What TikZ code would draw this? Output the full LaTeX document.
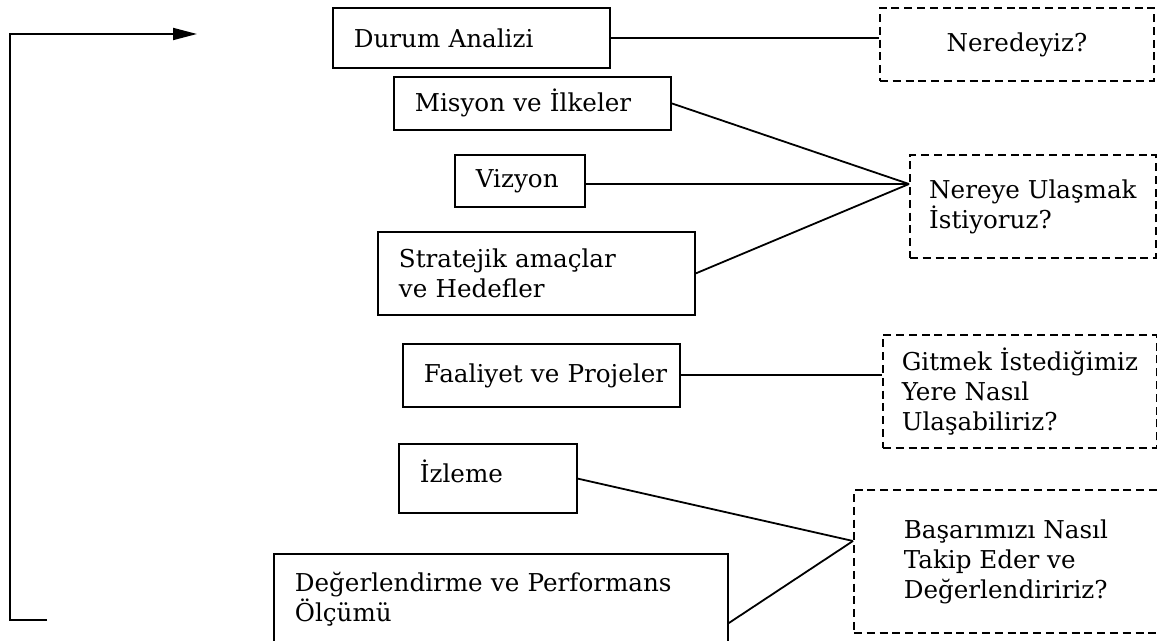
\documentclass[tikz,border=0pt]{standalone}
\usepackage{fontspec}
\setmainfont{DejaVu Serif}
\usetikzlibrary{arrows.meta}

\begin{document}
\begin{tikzpicture}[x=0.5pt, y=-0.5pt, line width=0.9pt,
    font=\fontsize{12.3pt}{15pt}\selectfont]
    \tikzset{box/.style={
      draw, rectangle, anchor=north west, align=left,
      inner xsep=10.5pt, inner ysep=0pt}}
    \tikzset{ask/.style={
      draw, rectangle, anchor=north west, align=left,
      dash pattern=on 4pt off 2.4pt}}

    \useasboundingbox (0, 0) rectangle (1157, 641);

    % Steps
    \node [box, text width=117.5pt, minimum height=30pt]
          (durum) at (332, 7) {\mbox{Durum Analizi}};
    \node [box, text width=117.5pt, minimum height=26.5pt]
          (misyon) at (393, 76) {\mbox{Misyon ve İlkeler}};
    \node [box, text width=44pt, minimum height=26pt]
          (vizyon) at (454, 154) {\mbox{Vizyon}};
    \node [box, text width=137.5pt, minimum height=41.5pt]
          (amac) at (377, 231) {Stratejik amaçlar\\ve Hedefler};
    \node [box, text width=117.5pt, minimum height=31.5pt]
          (faaliyet) at (402, 343) {\mbox{Faaliyet ve Projeler}};
    \node [box, text width=68pt, inner ysep=8pt, text depth=7.4pt]
          (izleme) at (398, 443) {\mbox{İzleme}};
    \node [box, text width=206pt, inner ysep=9pt, text depth=41.5pt]
          (olcum) at (273, 553) {Değerlendirme ve Performans\\Ölçümü};

    % Questions
    \node [ask, minimum width=137pt, minimum height=36.5pt]
          (nerede) at (879, 7) {Neredeyiz?};
    \node [ask, minimum width=123pt, minimum height=51.5pt]
          (nereye) at (909, 154) {Nereye Ulaşmak\\İstiyoruz?};
    \node [ask, minimum width=137pt, minimum height=56.5pt]
          (nasil) at (882, 334) {Gitmek İstediğimiz\\Yere Nasıl\\Ulaşabiliriz?};
    \node [ask, minimum width=152pt, minimum height=71.5pt]
          (takip) at (853, 489) {Başarımızı Nasıl\\Takip Eder ve\\Değerlendiririz?};

    % Anchors where the lines meet.
    \coordinate (hedef) at (909, 184);
    \coordinate (izle) at (853, 541);
    \coordinate (geri) at (47, 620);
    \coordinate (basla) at (197, 34);

    % Edges
    \draw (durum.east) -- (durum.east -| nerede.west);
    \draw (faaliyet.east) -- (faaliyet.east -| nasil.west);
    \draw (vizyon.east |- hedef) -- (hedef);
    \foreach \n in {misyon, amac} {
      \draw (\n.east) -- (hedef);
    }
    \foreach \n in {izleme, olcum} {
      \draw (\n.east) -- (izle);
    }
    \draw [-{Triangle[length=12pt, width=6pt]}]
          (geri) -- ++(-37, 0) |- (basla);
  \end{tikzpicture}
\end{document}
